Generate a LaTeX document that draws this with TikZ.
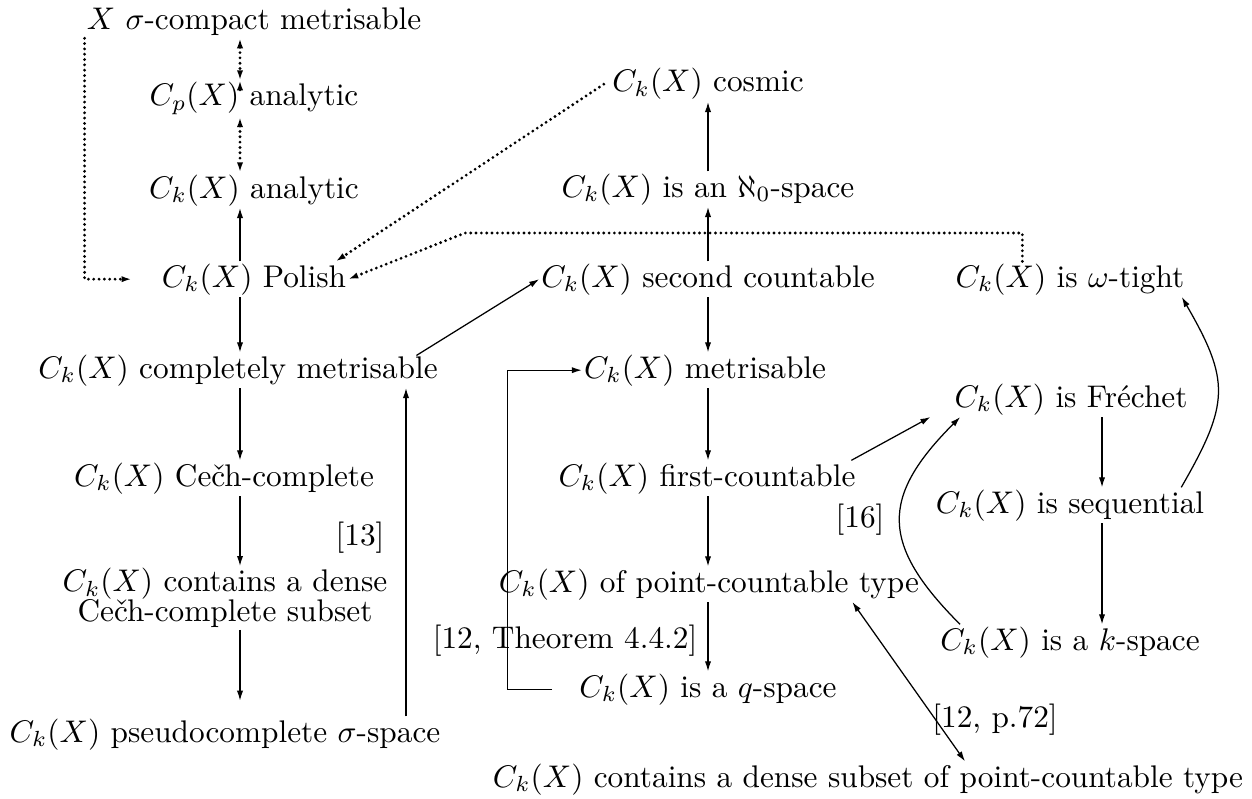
\documentclass[tikz,border=0pt]{standalone}
\usetikzlibrary{arrows.meta}

\tikzset{
	stmt/.style={inner sep=0.5pt, anchor=base},
	impl/.style={->, line width=0.4pt},
	dotimpl/.style={line width=1pt, dash pattern=on 0pt off 1.7pt, line cap=round},
}

\begin{document}
\begin{tikzpicture}[x=0.3195pt, y=0.3195pt, >={Latex[length=3.2pt,width=2pt]}]
		%%%%% START %%%%%
		\useasboundingbox (0,0) rectangle (1252,-798);
		
		\coordinate (colL) at (240,0);
		\coordinate (colM) at (708,0);
		\coordinate (colR) at (1102,0);
		\coordinate (colB) at (406,0);
		\coordinate (bend) at (465,-233);
		
		% left column
		\node[stmt] (xsig) at (254,-30) {$X$ $\sigma$-compact metrisable};
		\node[stmt] (cpan) at (254,-106) {$C_p(X)$ analytic};
		\node[stmt] (ckan) at (254,-198) {$C_k(X)$ analytic};
		\node[stmt] (polish) at (254,-287) {$C_k(X)$ Polish};
		\node[stmt] (cmetr) at (238,-378) {$C_k(X)$ completely metrisable};
		\node[stmt] (cech) at (224,-486) {$C_k(X)$ Ce\v{c}h-complete};
		\node[inner sep=0.5pt, align=center, font=\linespread{0.8}\selectfont] (cdense) at (225,-598) {$C_k(X)$ contains a dense\\Ce\v{c}h-complete subset};
		\node[stmt] (pseudo) at (225,-742) {$C_k(X)$ pseudocomplete $\sigma$-space};
		
		% middle column
		\node[stmt] (cosmic) at (708,-92) {$C_k(X)$ cosmic};
		\node[stmt] (aleph) at (708,-197) {$C_k(X)$ is an $\aleph_0$-space};
		\node[stmt] (second) at (708,-287) {$C_k(X)$ second countable};
		\node[stmt] (metr) at (705,-378) {$C_k(X)$ metrisable};
		\node[stmt] (first) at (707,-486) {$C_k(X)$ first-countable};
		\node[stmt] (pctype) at (709,-592) {$C_k(X)$ of point-countable type};
		\node[stmt] (qsp) at (708,-697) {$C_k(X)$ is a $q$-space};
		\node[stmt] (dsub) at (868,-787) {$C_k(X)$ contains a dense subset of point-countable type};
		
		% right column
		\node[stmt] (omega) at (1070,-287) {$C_k(X)$ is $\omega$-tight};
		\node[stmt] (frechet) at (1071,-407) {$C_k(X)$ is Fréchet};
		\node[stmt] (seq) at (1070,-513) {$C_k(X)$ is sequential};
		\node[stmt] (ksp) at (1070,-650) {$C_k(X)$ is a $k$-space};
		
		% references
		\node[stmt] (ref13) at (360,-545) {[13]};
		\node[stmt] (refthm) at (565,-648) {[12, Theorem 4.4.2]};
		\node[stmt] (ref16) at (860,-527) {[16]};
		\node[stmt] (refp) at (995,-727) {[12, p.72]};
		
		% dotted
		\draw[dotimpl, <->] (xsig.south -| colL) -- (cpan.north -| colL);
		\draw[dotimpl, ->] ([yshift=-3pt]cpan.north -| colL) -- (cpan.north -| colL);
		\draw[dotimpl, <->] (cpan.south -| colL) -- (ckan.north -| colL);
		\draw[dotimpl, ->] (xsig.south west) |- ([xshift=-9pt]polish.west);
		\draw[dotimpl, ->] ([xshift=-2pt]cosmic.west) -- ([xshift=-4pt]polish.north east);
		\draw[dotimpl, ->] ([xshift=22pt]omega.north west) |- (bend) -- (polish.east);
		
		% left arrows
		\draw[impl] (polish.north -| colL) -- (ckan.south -| colL);
		\draw[impl] (polish.south -| colL) -- (cmetr.north -| colL);
		\draw[impl] (cmetr.south -| colL) -- (cech.north -| colL);
		\draw[impl] (cech.south -| colL) -- (cdense.north -| colL);
		\draw[impl] (cdense.south -| colL) -- ([yshift=5pt]pseudo.north -| colL);
		\draw[impl] (pseudo.north -| colB) -- (cmetr.south -| colB);
		\draw[impl] ([xshift=-7.5pt,yshift=-1pt]cmetr.north east) -- (second.west);
		
		% middle arrows
		\draw[impl] (aleph.north -| colM) -- (cosmic.south -| colM);
		\draw[impl] (second.north -| colM) -- (aleph.south -| colM);
		\draw[impl] (second.south -| colM) -- (metr.north -| colM);
		\draw[impl] (metr.south -| colM) -- (first.north -| colM);
		\draw[impl] (first.south -| colM) -- (pctype.north -| colM);
		\draw[impl] (pctype.south -| colM) -- (qsp.north -| colM);
		\draw[impl] ([xshift=-8pt]qsp.west) -- ++(-45,0) |- (metr.west);
		\draw[impl, <->] ([xshift=-22pt]pctype.south east) -- ([xshift=31pt]dsub.north);
		\draw[impl] ([xshift=-2pt]first.north east) -- ([xshift=-7pt]frechet.south west);
		
		% right arrows
		\draw[impl] (frechet.south -| colR) -- (seq.north -| colR);
		\draw[impl] (seq.south -| colR) -- (ksp.north -| colR);
		\draw[impl] ([xshift=7pt]ksp.north west) to[out=135, in=225, looseness=1.4] ([xshift=2.5pt]frechet.south west);
		\draw[impl] ([xshift=-8pt]seq.north east) to[out=60, in=-60, looseness=1.3] ([xshift=-1.5pt]omega.south east);
		
		%%%%% END %%%%%
\end{tikzpicture}
\end{document}
